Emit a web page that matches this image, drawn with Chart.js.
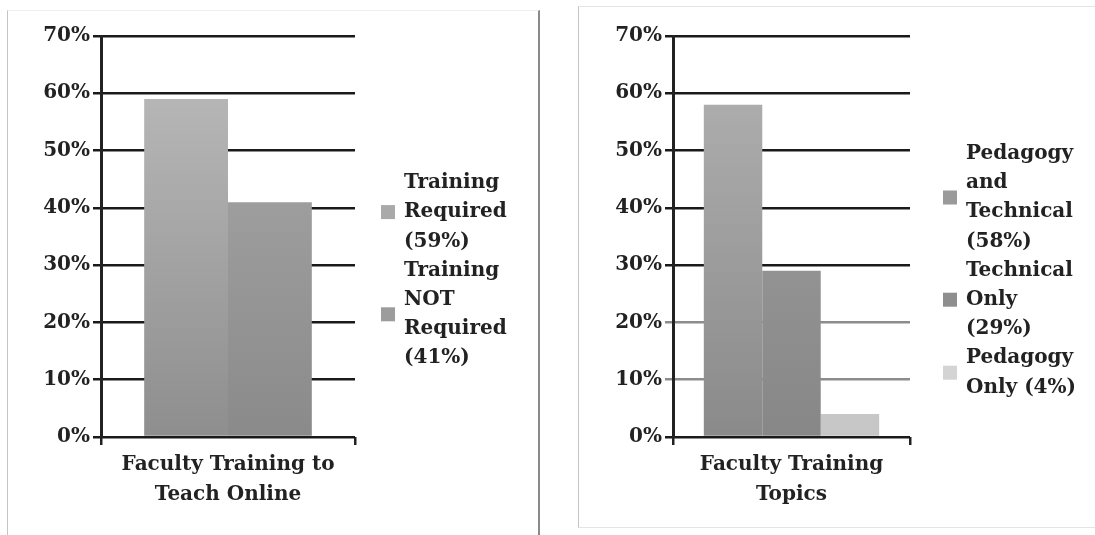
<!DOCTYPE html>
<html>
<head>
<meta charset="utf-8">
<script src="https://cdn.jsdelivr.net/npm/chart.js@4/dist/chart.umd.min.js"></script>
<style>
  html, body { margin: 0; padding: 0; background: #fff; }
  body { width: 1095px; height: 535px; position: relative; overflow: hidden; }
  .frame { position: absolute; box-sizing: border-box; }
  #leftFrame { left: 7px; top: 10px; width: 533px; height: 525px; border-left: 1px solid #c4c4c4; border-right: 2px solid #8a8a8a; border-top: 1px solid #eee; }
  #rightFrame { left: 578px; top: 6px; width: 517px; height: 522px; border-left: 1px solid #c4c4c4; border-top: 1px solid #e4e4e4; border-bottom: 1px solid #e4e4e4; }
  .box { position: absolute; top: 0; height: 535px; }
  #leftBox { left: 0; width: 540px; }
  #rightBox { left: 540px; width: 555px; }
</style>
</head>
<body>
<div class="frame" id="leftFrame"></div>
<div class="frame" id="rightFrame"></div>
<div class="box" id="leftBox"><canvas id="leftChart" width="540" height="535"></canvas></div>
<div class="box" id="rightBox"><canvas id="rightChart" width="555" height="535"></canvas></div>
<script>
// left chart data
const leftCategory = [['Faculty Training to', 'Teach Online']];
const leftSeries = [['Training', 'Required', '(59%)'], ['Training', 'NOT', 'Required', '(41%)']];
const leftValues = [59, 41];

// right chart data
const rightCategory = [['Faculty Training', 'Topics']];
const rightSeries = [['Pedagogy', 'and', 'Technical', '(58%)'], ['Technical', 'Only', '(29%)'], ['Pedagogy', 'Only (4%)']];
const rightValues = [58, 29, 4];

const yMin = 0, yMax = 70, yStep = 10;

// bar shading (top, bottom)
const leftShades = [['#bdbdbd', '#8e8e8e'], ['#ababab', '#8a8a8a']];
const rightShades = [['#b3b3b3', '#8a8a8a'], ['#a2a2a2', '#878787'], ['#d8d8d8', '#c6c6c6']];
const leftKeys = ['#a9a9a9', '#9c9c9c'];
const rightKeys = ['#9a9a9a', '#8e8e8e', '#d4d4d4'];

const textFont = { family: 'DejaVu Serif', size: 20, weight: 'bold' };
const catFont = { family: 'DejaVu Serif', size: 20, weight: 'bold', lineHeight: 1.5 };
const ink = '#222';

function shade(top, bottom) {
  return ctx => {
    const area = ctx.chart.chartArea;
    if (!area) return bottom;
    const g = ctx.chart.ctx.createLinearGradient(0, area.top, 0, area.bottom);
    g.addColorStop(0, top);
    g.addColorStop(1, bottom);
    return g;
  };
}

// legend with wrapped lines, drawn next to the plot
const wrapLegend = {
  id: 'wrapLegend',
  afterDraw(chart, args, opts) {
    const ctx = chart.ctx;
    const lh = opts.lineHeight;
    const items = chart.data.datasets;
    let total = 0;
    items.forEach(d => total += d.label.length);
    let y = chart.height / 2 + 3 - total * lh / 2;
    const bx = chart.chartArea.right + opts.offset;
    ctx.save();
    ctx.font = `bold ${textFont.size}px "${textFont.family}"`;
    ctx.textBaseline = 'middle';
    ctx.textAlign = 'left';
    items.forEach((d, i) => {
      const n = d.label.length;
      const mid = y + n * lh / 2;
      ctx.fillStyle = opts.keys[i];
      ctx.fillRect(bx, mid - opts.box / 2, opts.box, opts.box);
      ctx.fillStyle = ink;
      d.label.forEach((line, j) => {
        ctx.fillText(line, bx + opts.box + 9, y + j * lh + lh / 2);
      });
      y += n * lh;
    });
    ctx.restore();
  }
};

function makeChart(id, category, series, values, shades, keys, catPct, yWidth, rightPad, legendOffset, gridColors) {
  return new Chart(document.getElementById(id), {
    type: 'bar',
    data: {
      labels: category,
      datasets: series.map((s, i) => ({
        label: s,
        data: [values[i]],
        backgroundColor: shade(shades[i][0], shades[i][1]),
        borderWidth: 0,
        categoryPercentage: catPct,
        barPercentage: 1
      }))
    },
    options: {
      responsive: false,
      animation: false,
      layout: { padding: { left: 0, top: 36, right: rightPad, bottom: 0 } },
      plugins: {
        legend: { display: false },
        tooltip: { enabled: false },
        wrapLegend: { offset: legendOffset, lineHeight: 29.2, box: 14, keys: keys }
      },
      scales: {
        x: {
          grid: { drawOnChartArea: false, drawTicks: true, tickLength: 8, color: ink, lineWidth: 2.5 },
          border: { display: false },
          ticks: { font: catFont, color: ink, padding: 5, maxRotation: 0 },
          afterFit: s => { s.height = 98; }
        },
        y: {
          min: yMin, max: yMax,
          grid: { color: ctx => gridColors(ctx.tick ? ctx.tick.value : 0), lineWidth: 2.5, tickLength: 8 },
          border: { color: ink, width: 3 },
          ticks: { stepSize: yStep, font: textFont, color: ink, padding: 3, callback: v => v + '%' },
          afterFit: s => { s.width = yWidth; }
        }
      }
    },
    plugins: [wrapLegend]
  });
}

makeChart('leftChart', leftCategory, leftSeries, leftValues, leftShades, leftKeys,
  0.66, 101, 185, 26, v => '#1a1a1a');
makeChart('rightChart', rightCategory, rightSeries, rightValues, rightShades, rightKeys,
  0.74, 133, 185, 33, v => (v === 10 || v === 20) ? '#8c8c8c' : '#1a1a1a');
</script>
</body>
</html>
